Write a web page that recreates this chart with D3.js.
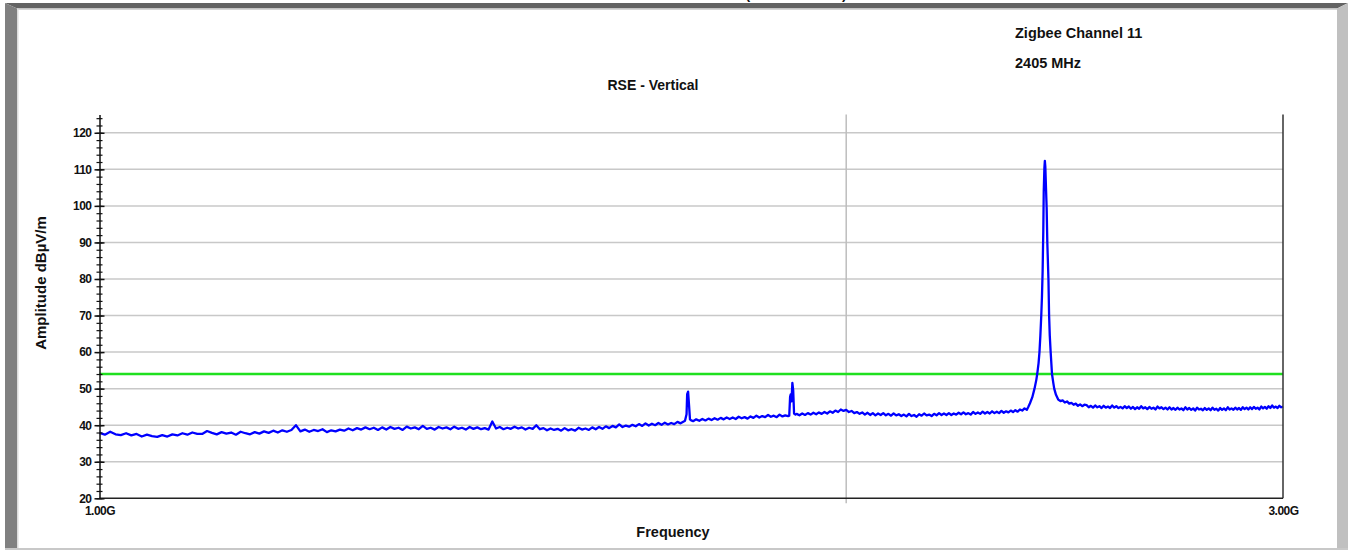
<!DOCTYPE html>
<html lang="en">
<head>
    <meta charset="UTF-8">
    <title>RSE - Vertical</title>
    <script src="https://d3js.org/d3.v7.min.js"></script>
    <style>
        body { margin: 0; background: #fff; }
        text { font-family: "Liberation Sans", Arial, sans-serif; font-weight: bold; fill: #111; }
        .grid { stroke: #c8c8c8; stroke-width: 1.5px; }
        .trace { fill: none; stroke: #0000ff; stroke-width: 2.3px; stroke-linejoin: round; }
        .limit { stroke: #1fe01f; stroke-width: 2.5px; }
    </style>
</head>
<body>
<svg width="1350" height="550"></svg>
<script>
    // sweep grid of the noise floor (MHz)
    const floorStart = 1000;
    const floorStep = 5;
    // floor amplitude, dBuV/m, one row per 100 MHz (null = hidden under a peak)
    const floorAmp = [
        37.9, 37.4, 38.2, 37.5, 37.3, 37.8, 37.2, 37.6, 36.9, 37.4, 37.0, 36.8, 37.3, 36.9, 37.5, 37.2, 37.8, 37.4, 38.0, 37.6,
        37.6, 38.4, 37.9, 37.5, 38.1, 37.7, 38.0, 37.4, 38.2, 37.8, 37.5, 38.1, 37.7, 38.3, 37.9, 38.5, 38.0, 38.6, 38.2, 38.7,
        40.0, 38.3, 38.8, 38.2, 38.7, 38.4, 38.9, 38.1, 38.6, 38.3, 38.8, 38.5, 39.1, 38.6, 39.2, 38.8, 39.4, 38.9, 39.3, 38.7,
        39.4, 38.8, 39.5, 39.0, 39.3, 38.7, 39.6, 39.1, 39.4, 38.9, 39.8, 39.0, 39.3, 38.8, 39.5, 39.1, 39.4, 38.9, 39.6, 39.0,
        39.3, 38.8, 39.5, 39.0, 39.4, 38.9, 39.2, 38.8, 41.0, 39.1, 39.5, 38.9, 39.3, 39.0, 39.6, 39.1, 39.4, 38.8, 39.3, 39.0,
        40.0, 38.9, 39.2, 38.6, 39.1, 38.7, 39.0, 38.5, 39.2, 38.6, 38.9, 38.5, 39.3, 38.8, 39.1, 38.7, 39.4, 38.9, 39.5, 39.0,
        39.7, 39.2, 39.8, 39.4, 40.2, 39.5, 39.9, 39.6, 40.1, 39.7, 40.3, 39.8, 40.5, 39.9, 40.4, 40.0, 40.6, 40.1, 40.7, 40.2,
        40.6, 40.3, 40.9, 40.5, 41.0, null, null, 41.1, 41.6, 41.2, 41.7, 41.3, 41.8, 41.4, 41.9, 41.5, 42.0, 41.6, 42.1, 41.7,
        42.1, 41.7, 42.3, 41.9, 42.2, 41.8, 42.4, 42.0, 42.6, 42.1, 42.5, 42.2, 42.8, 42.3, 42.6, 42.2, 42.9, 42.4, 42.7, 42.5,
        null, null, 43.1, 42.7, 43.2, 42.8, 43.3, 42.9, 43.4, 43.0, 43.5, 43.1, 43.6, 43.2, 43.8, 43.4, 44.0, 43.6, 44.3, 43.9,
        44.2, 43.6, 43.9, 43.3, 43.6, 43.1, 43.5, 42.9, 43.4, 42.8, 43.3, 42.7, 43.2, 42.8, 43.3, 42.7, 43.1, 42.6, 43.2, 42.7,
        43.0, 42.5, 42.9, 42.4, 43.1, 42.5, 42.8, 42.3, 43.0, 42.6, 43.2, 42.7, 42.9, 42.5, 43.1, 42.7, 43.3, 42.8, 43.2, 42.8,
        43.3, 42.8, 43.2, 42.9, 43.4, 43.0, 43.5, 43.0, 43.3, 42.9, 43.6, 43.1, 43.5, 43.1, 43.7, 43.2, 43.6, 43.2, 43.8, 43.3,
        43.7, 43.3, 43.9, 43.4, 43.8, 43.5, 44.0, 43.6, 44.1, 43.7, 44.3, 44.0, 44.6, 44.2, null, null, null, null, null, null,
        null, null, null, null, null, null, null, null, null, 46.8, 46.2, 46.5, 45.9, 46.1, 45.6, 45.9, 45.3, 45.7, 45.2, 45.6,
        45.5, 44.9, 45.3, 44.8, 45.4, 44.9, 45.2, 44.7, 45.3, 44.8, 45.1, 44.7, 45.4, 44.8, 45.2, 44.7, 45.0, 44.6, 45.2, 44.7,
        45.1, 44.5, 45.0, 44.4, 44.9, 44.5, 45.2, 44.6, 44.9, 44.4, 45.0, 44.5, 44.8, 44.3, 45.1, 44.6, 44.9, 44.4, 44.8, 44.3,
        44.9, 44.3, 44.7, 44.2, 44.8, 44.3, 44.6, 44.1, 44.9, 44.3, 44.7, 44.2, 44.6, 44.0, 44.8, 44.3, 44.5, 44.1, 44.7, 44.2,
        44.6, 44.1, 44.8, 44.2, 44.5, 44.0, 44.7, 44.2, 44.6, 44.1, 44.9, 44.3, 44.6, 44.2, 44.8, 44.3, 44.7, 44.2, 44.9, 44.4,
        44.8, 44.3, 44.9, 44.4, 45.0, 44.5, 44.8, 44.3, 45.1, 44.6, 45.0, 44.5, 45.2, 44.7, 45.4, 44.8, 45.1, 44.7, 45.3, 44.9,
        45.1
    ];

    // spurious near 1.73 GHz
    const spur1Freq = [1722, 1724.5, 1725.5, 1727, 1728.5, 1730, 1732];
    const spur1Amp = [41.2, 43.0, 48.5, 49.2, 45.5, 41.6, 41.3];
    // spurious near 1.90 GHz
    const spur2Freq = [1897, 1898.5, 1899.5, 1901, 1902.5, 1904, 1905.5, 1908];
    const spur2Amp = [42.6, 47.8, 48.4, 46.5, 51.6, 49.5, 43.2, 42.9];
    // carrier, 2405 MHz
    const carrierFreq = [2368, 2372, 2377, 2382, 2386, 2388, 2391, 2393, 2395, 2397, 2398.5, 2400, 2401.5, 2402.5, 2404,
        2405, 2406, 2407.5, 2409, 2410.5, 2412, 2413, 2414.5, 2416, 2418, 2421, 2424, 2426, 2430, 2435, 2440];
    const carrierAmp = [44.9, 46.0, 47.6, 50.0, 52.4, 54.0, 57.0, 60.0, 64.5, 70.0, 75.0, 82.0, 93.0, 104.0, 110.5,
        112.3, 110.8, 105.0, 99.5, 90.0, 84.0, 80.0, 70.0, 64.5, 60.0, 54.0, 51.5, 50.0, 48.3, 47.0, 46.6];

    const limitLine = 54;
    const yMajor = [20, 30, 40, 50, 60, 70, 80, 90, 100, 110, 120];
    const yMinor = d3.range(20, 125, 2);
    const xLabels = [1000, 3000];
    const xGrid = [2000];

    const svg = d3.select("svg");

    const x = d3.scaleLog().domain([1000, 3000]).range([99.5, 1283]);
    const y = d3.scaleLinear().domain([20, 125]).range([498.3, 114.5]);

    // heading above the frame, only its lowest pixels show in the capture
    svg.append("text")
        .attr("x", 796).attr("y", -1)
        .attr("text-anchor", "middle")
        .style("font-size", "14px")
        .text("(1 GHz - 3 GHz)");

    // bevelled frame
    svg.append("polygon").attr("points", "5,3 1348,3 1337,8.5 17,8.5").attr("fill", "#636363");
    svg.append("rect").attr("x", 17).attr("y", 8.5).attr("width", 1320).attr("height", 1.5).attr("fill", "#d6d6d6");
    svg.append("polygon").attr("points", "5,3 17,8.5 17,548 5,548").attr("fill", "#808080");
    svg.append("rect").attr("x", 17).attr("y", 8.5).attr("width", 1.5).attr("height", 539.5).attr("fill", "#dcdcdc");
    svg.append("polygon").attr("points", "1348,3 1348,550 1337,548 1337,8.5").attr("fill", "#c0c0c0");
    svg.append("rect").attr("x", 5).attr("y", 548).attr("width", 1343).attr("height", 2).attr("fill", "#c8c8c8");

    // headings
    svg.append("text").attr("x", 653).attr("y", 90)
        .attr("text-anchor", "middle").style("font-size", "14px")
        .text("RSE - Vertical");
    svg.append("text").attr("x", 1015).attr("y", 38)
        .style("font-size", "14.5px")
        .text("Zigbee Channel 11");
    svg.append("text").attr("x", 1015).attr("y", 68)
        .style("font-size", "14.5px")
        .text("2405 MHz");

    // grid
    svg.append("g").selectAll("line")
        .data(yMajor.filter(d => d > 20))
        .enter().append("line")
        .attr("class", "grid")
        .attr("x1", x(1000)).attr("x2", x(3000))
        .attr("y1", d => y(d)).attr("y2", d => y(d));

    svg.append("g").selectAll("line")
        .data(xGrid)
        .enter().append("line")
        .attr("stroke", "#bdbdbd").attr("stroke-width", 1.5)
        .attr("x1", d => x(d)).attr("x2", d => x(d))
        .attr("y1", y(125)).attr("y2", y(20) + 5);

    // limit line
    svg.append("line")
        .attr("class", "limit")
        .attr("x1", x(1000)).attr("x2", x(3000))
        .attr("y1", y(limitLine)).attr("y2", y(limitLine));

    // trace
    const points = floorAmp
        .map((a, i) => ({ f: floorStart + i * floorStep, a: a }))
        .filter(d => d.a !== null)
        .concat(spur1Freq.map((f, i) => ({ f: f, a: spur1Amp[i] })))
        .concat(spur2Freq.map((f, i) => ({ f: f, a: spur2Amp[i] })))
        .concat(carrierFreq.map((f, i) => ({ f: f, a: carrierAmp[i] })))
        .sort((p, q) => p.f - q.f);

    svg.append("path")
        .datum(points)
        .attr("class", "trace")
        .attr("d", d3.line().x(d => x(d.f)).y(d => y(d.a)));

    // plot border right and bottom
    svg.append("line").attr("stroke", "#333").attr("stroke-width", 1.5)
        .attr("x1", x(3000)).attr("x2", x(3000)).attr("y1", y(125)).attr("y2", y(20));
    svg.append("line").attr("stroke", "#222").attr("stroke-width", 1.5)
        .attr("x1", x(1000)).attr("x2", x(3000)).attr("y1", y(20)).attr("y2", y(20));

    // y axis
    const yMinorAxis = svg.append("g")
        .attr("transform", "translate(" + x(1000) + ",0)")
        .call(d3.axisLeft(y).tickValues(yMinor).tickSize(3).tickSizeOuter(0).tickFormat(""));
    yMinorAxis.select(".domain").remove();
    yMinorAxis.selectAll(".tick line").attr("x1", 3).attr("stroke", "#111").attr("stroke-width", 1.2);

    const yAxis = svg.append("g")
        .attr("transform", "translate(" + x(1000) + ",0)")
        .call(d3.axisLeft(y).tickValues(yMajor).tickSize(5).tickSizeOuter(0).tickPadding(3));
    yAxis.select(".domain").attr("stroke", "#111").attr("stroke-width", 1.5);
    yAxis.selectAll(".tick line").attr("x1", 5).attr("stroke", "#111").attr("stroke-width", 1.5);
    yAxis.selectAll(".tick text")
        .style("font-size", "12px").style("letter-spacing", "-0.5px")
        .style("font-family", "'Liberation Sans', Arial, sans-serif").style("font-weight", "bold").attr("fill", "#111");

    // x axis
    const xAxis = svg.append("g")
        .attr("transform", "translate(0," + y(20) + ")")
        .call(d3.axisBottom(x).tickValues(xLabels).tickSize(0).tickPadding(8)
            .tickFormat(d => (d / 1000).toFixed(2) + "G"));
    xAxis.select(".domain").remove();
    xAxis.selectAll(".tick text")
        .style("font-size", "12px").style("letter-spacing", "-0.5px")
        .style("font-family", "'Liberation Sans', Arial, sans-serif").style("font-weight", "bold").attr("fill", "#111");

    // axis titles
    svg.append("text")
        .attr("transform", "translate(46,283) rotate(-90)")
        .attr("text-anchor", "middle")
        .style("font-size", "15px")
        .text("Amplitude dBµV/m");
    svg.append("text")
        .attr("x", 673).attr("y", 537)
        .attr("text-anchor", "middle")
        .style("font-size", "14.5px")
        .text("Frequency");
</script>
</body>
</html>
